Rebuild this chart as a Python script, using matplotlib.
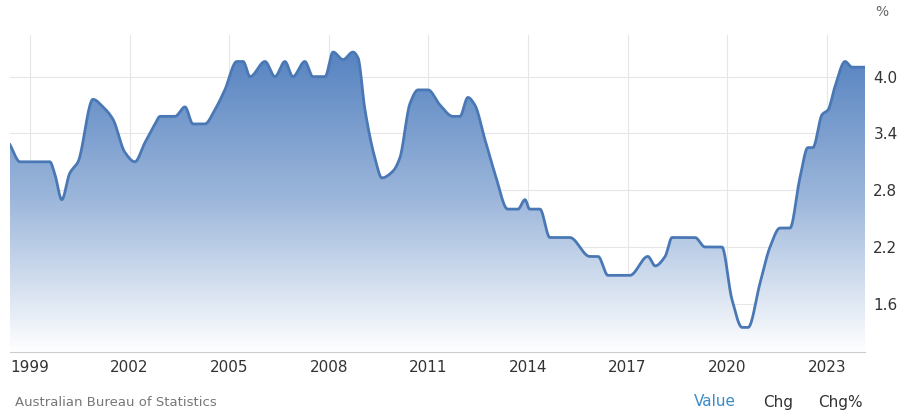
import numpy as np
import matplotlib
matplotlib.use("Agg")
import matplotlib.pyplot as plt
from matplotlib.colors import LinearSegmentedColormap

years = [1998.40,1998.70,1999.60,1999.75,1999.96,2000.20,2000.45,2000.90,2001.20,2001.50,
         2001.86,2002.16,2002.46,2002.77,2002.92,2003.37,2003.67,2003.91,2004.27,2004.57,
         2004.87,2005.23,2005.42,2005.63,2006.08,2006.38,2006.68,2006.92,2007.28,2007.52,
         2007.89,2008.13,2008.43,2008.73,2008.88,2009.09,2009.39,2009.60,2009.93,2010.14,
         2010.45,2010.69,2010.99,2011.35,2011.74,2011.95,2012.19,2012.40,2012.70,2013.01,
         2013.39,2013.70,2013.91,2014.05,2014.36,2014.66,2015.26,2015.86,2016.11,2016.41,
         2017.07,2017.61,2017.83,2018.13,2018.34,2019.03,2019.33,2019.84,2020.14,2020.45,
         2020.63,2020.99,2021.29,2021.59,2021.89,2022.19,2022.43,2022.58,2022.86,2023.04,
         2023.25,2023.55,2023.76,2024.15]
values = [3.28,3.1,3.1,2.97,2.7,2.98,3.1,3.76,3.68,3.55,
          3.2,3.1,3.3,3.5,3.58,3.58,3.68,3.5,3.5,3.65,
          3.86,4.16,4.16,4.0,4.16,4.0,4.16,4.0,4.16,4.0,
          4.0,4.26,4.18,4.26,4.2,3.65,3.14,2.93,3.0,3.14,
          3.72,3.86,3.86,3.7,3.58,3.58,3.78,3.7,3.34,2.97,
          2.6,2.6,2.7,2.6,2.6,2.3,2.3,2.1,2.1,1.9,
          1.9,2.1,2.0,2.1,2.3,2.3,2.2,2.2,1.65,1.35,
          1.35,1.82,2.2,2.4,2.4,2.93,3.25,3.25,3.6,3.65,
          3.9,4.16,4.1,4.1]
xtick_years = [1999,2002,2005,2008,2011,2014,2017,2020,2023]
ytick_vals = [1.6,2.2,2.8,3.4,4.0]

def pchip(x, y, xn):
    x = np.asarray(x); y = np.asarray(y)
    h = np.diff(x); d = np.diff(y)/h
    m = np.zeros_like(y)
    for i in range(1, len(x)-1):
        if d[i-1]*d[i] > 0:
            w1 = 2*h[i]+h[i-1]; w2 = h[i]+2*h[i-1]
            m[i] = (w1+w2)/(w1/d[i-1]+w2/d[i])
    m[0] = d[0]; m[-1] = d[-1]
    idx = np.clip(np.searchsorted(x, xn)-1, 0, len(h)-1)
    t = (xn - x[idx])/h[idx]
    h00 = 2*t**3-3*t**2+1; h10 = t**3-2*t**2+t; h01 = -2*t**3+3*t**2; h11 = t**3-t**2
    return h00*y[idx]+h10*h[idx]*m[idx]+h01*y[idx+1]+h11*h[idx]*m[idx+1]

xs = np.linspace(years[0], years[-1], 2000)
ys = pchip(years, values, xs)

fig = plt.figure(figsize=(9, 4.17), dpi=100)
ax = fig.add_axes([10/900, 1-352/417, 855/900, 317/417])
ax.set_axisbelow(True)
ymin, ymax = 1.09, 4.44
ax.set_xlim(years[0], years[-1])
ax.set_ylim(ymin, ymax)

cmap = LinearSegmentedColormap.from_list("g", ["#ffffff", "#9db7db", "#5582c0"])
grad = np.linspace(0, 1, 256).reshape(-1, 1)
im = ax.imshow(grad, extent=[years[0], years[-1], ymin, 4.3], origin="lower",
               aspect="auto", cmap=cmap, zorder=1)
poly = ax.fill_between(xs, ys, ymin, color="none")
clip = poly.get_paths()[0]
im.set_clip_path(clip, transform=ax.transData)
ax.plot(xs, ys, color="#4a78b5", lw=2, zorder=3)

ax.set_xticks(xtick_years)
ax.set_xticklabels([str(y) for y in xtick_years], fontsize=11, color="#333333")
ax.set_yticks(ytick_vals)
ax.set_yticklabels([f"{v:.1f}" for v in ytick_vals], fontsize=11, color="#333333")
ax.yaxis.tick_right()
ax.tick_params(length=0, pad=6)
ax.grid(True, color="#e6e6e6", lw=0.8, zorder=0)
for s in ["top", "left", "right"]:
    ax.spines[s].set_visible(False)
ax.spines["bottom"].set_color("#cccccc")

fig.text(882/900, 1-12/417, "%", fontsize=10, color="#666666", ha="center", va="center")
fig.text(15/900, 1-402/417, "Australian Bureau of Statistics", fontsize=9.5, color="#777777", va="center")
fig.text(715/900, 1-402/417, "Value", fontsize=11, color="#3a8cc9", ha="center", va="center")
fig.text(778/900, 1-402/417, "Chg", fontsize=11, color="#333333", ha="center", va="center")
fig.text(840/900, 1-402/417, "Chg%", fontsize=11, color="#333333", ha="center", va="center")
fig.savefig("out.png", dpi=100)
